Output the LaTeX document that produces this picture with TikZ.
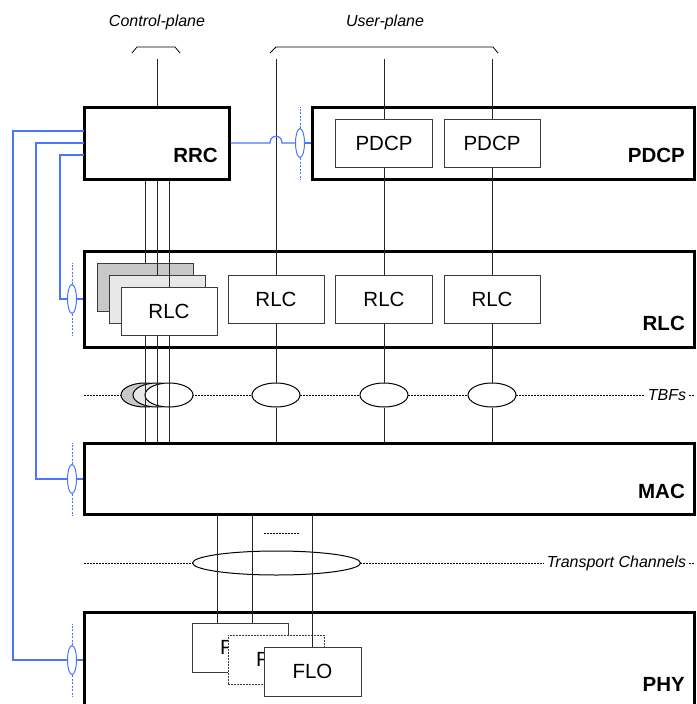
\documentclass[tikz,border=0pt]{standalone}
\usepackage{fontspec}
\setmainfont{Liberation Sans}
\usetikzlibrary{shapes.geometric}
\definecolor{bl}{RGB}{74,118,255}
\definecolor{dgray}{RGB}{200,200,200}
\definecolor{lgray}{RGB}{232,232,232}
\definecolor{edge}{RGB}{60,60,60}
\begin{document}
\begin{tikzpicture}[x=1pt,y=-1pt,
  bigbox/.style={draw=black, line width=3pt, inner sep=0pt},
  smallbox/.style={draw=edge, line width=1pt, fill=white, inner sep=0pt, minimum width=96pt, minimum height=48pt, font=\fontsize{20.5}{24}\selectfont},
  layerlbl/.style={font=\fontsize{20.5}{24}\selectfont\bfseries, anchor=base east, inner sep=0pt},
  planelbl/.style={font=\fontsize{16}{19}\selectfont\itshape, anchor=base, inner sep=3pt},
  oval/.style={ellipse, draw=black, line width=1pt, fill=white, minimum width=48pt, minimum height=24pt, inner sep=0pt},
  wire/.style={draw=black!85, line width=1pt},
  bluewire/.style={draw=bl, line width=1.2pt},
  bluering/.style={ellipse, draw=bl, line width=1pt, fill=white, minimum width=9pt, minimum height=29pt, inner sep=0pt},
  bluedash/.style={draw=bl, line width=0.8pt, dash pattern=on 2pt off 1.5pt},
  dotline/.style={draw=black, line width=0.8pt, dash pattern=on 2pt off 1pt}]
\useasboundingbox (0,0) rectangle (696,704);

% plane labels and brackets
\node[planelbl] (cplane) at (157,27) {Control-plane};
\node[planelbl] (uplane) at (385,27) {User-plane};
\draw[line width=0.8pt] (132,53) -- (137,47) -- (175,47) -- (180,53);
\draw[line width=0.8pt] (270,53) -- (276,47) -- (493,47) -- (498,53);

% dashed channel lines with labels
\node[planelbl] (tbfs) at (667,400) {TBFs};
\node[planelbl] (trch) at (616.5,567) {Transport Channels};
\coordinate (tbfL) at (84,395);
\coordinate (tbfR) at (695,395);
\coordinate (trL) at (84,563);
\coordinate (trR) at (695,563);
\draw[dotline] (tbfL) -- (tbfL -| tbfs.west);
\draw[dotline] (tbfR -| tbfs.east) -- (tbfR);
\draw[dotline] (trL) -- (trL -| trch.west);
\draw[dotline] (trR -| trch.east) -- (trR);

% layer boxes
\node[bigbox, minimum width=145pt, minimum height=72pt] (rrc) at (156.5,143) {};
\node[bigbox, minimum width=382pt, minimum height=72pt] (pdcpL) at (503,143) {};
\node[bigbox, minimum width=610pt, minimum height=96pt] (rlcL) at (389,299) {};
\node[bigbox, minimum width=610pt, minimum height=71pt] (mac) at (389,478.5) {};
\node[bigbox, minimum width=610pt, minimum height=128pt] (phy) at (389,676) {};
\node[layerlbl] (rrcT) at (218,162) {RRC};
\node[layerlbl] (pdcpT) at (685,162) {PDCP};
\node[layerlbl] (rlcT) at (685,330) {RLC};
\node[layerlbl] (macT) at (685,498) {MAC};
\node[layerlbl] (phyT) at (685,691) {PHY};

% inner entities
\node[smallbox, minimum width=97pt] (pdcp1) at (384,143) {PDCP};
\node[smallbox] (pdcp2) at (492,143) {PDCP};
\node[smallbox, fill=dgray] (rlca) at (145,287) {};
\node[smallbox, fill=lgray] (rlcb) at (157,299) {};
\node[smallbox] (rlcc) at (169,311) {RLC};
\node[smallbox] (rlc2) at (276,299) {RLC};
\node[smallbox, minimum width=97pt] (rlc3) at (384,299) {RLC};
\node[smallbox] (rlc4) at (492,299) {RLC};
\node[smallbox, minimum height=49pt] (flo1) at (240,647.5) {FLO};
\node[smallbox, minimum height=49pt, dash pattern=on 2pt off 1pt] (flo2) at (276,659.5) {FLO};
\node[smallbox, minimum width=97pt, minimum height=49pt] (flo3) at (312.5,671.5) {FLO};

% TBF ovals
\node[oval, fill=dgray] (ea) at (145,395) {};
\node[oval, fill=lgray] (eb) at (157,395) {};
\node[oval] (ec) at (169,395) {};
\node[oval] (e2) at (276,395) {};
\node[oval] (e3) at (384,395) {};
\node[oval] (e4) at (492,395) {};
% transport channel oval
\node[oval, minimum width=168pt] (etr) at (276.5,563) {};

% control-plane wires
\coordinate (c0) at (157,59);
\draw[wire] (c0) -- (rrc.north -| c0);
\draw[wire] (rrc.south -| rlca.north) -- (rlca.north);
\draw[wire] (rrc.south -| rlcb.north) -- (rlcb.north);
\draw[wire] (rrc.south -| rlcc.north) -- (rlcc.north);
\draw[wire] (rlcc.south -| rlca.north) -- (mac.north -| rlca.north);
\draw[wire] (rlcc.south -| rlcb.north) -- (mac.north -| rlcb.north);
\draw[wire] (rlcc.south) -- (mac.north -| rlcc.south);

% user-plane wires
\coordinate (u1) at (276,59);
\coordinate (u2) at (384,59);
\coordinate (u3) at (492,59);
\draw[wire] (u1) -- (rlc2.north);
\draw[wire] (rlc2.south) -- (e2.north);
\draw[wire] (e2.south) -- (mac.north -| e2.south);
\draw[wire] (u2) -- (pdcp1.north);
\draw[wire] (pdcp1.south) -- (rlc3.north);
\draw[wire] (rlc3.south) -- (e3.north);
\draw[wire] (e3.south) -- (mac.north -| e3.south);
\draw[wire] (u3) -- (pdcp2.north);
\draw[wire] (pdcp2.south) -- (rlc4.north);
\draw[wire] (rlc4.south) -- (e4.north);
\draw[wire] (e4.south) -- (mac.north -| e4.south);

% transport wires
\coordinate (ta) at (217,0);
\coordinate (tb) at (252,0);
\coordinate (tc) at (312,0);
\draw[wire] (mac.south -| ta) -- (flo1.north -| ta);
\draw[wire] (mac.south -| tb) -- (flo1.north -| tb);
\draw[wire] (mac.south -| tc) -- (flo3.north -| tc);
\coordinate (dA) at (264,533);
\coordinate (dB) at (299,533);
\draw[dotline] (dA) -- (dB);

% blue control connections
\node[bluering] (r0) at (300,143) {};
\node[bluering] (r1) at (72,299) {};
\node[bluering] (r2) at (72,479) {};
\node[bluering] (r3) at (72,660) {};
\foreach \r in {r0,r1,r2,r3}{
  \draw[bluedash] (\r.north) -- ++(0,-21.5);
  \draw[bluedash] (\r.south) -- ++(0,21.5);
}
\coordinate (hopA) at (270,143);
\coordinate (hopB) at (282,143);
\draw[bluewire] (rrc.east) -- (hopA) .. controls (270,134) and (282,134) .. (hopB) -- (r0.west);
\draw[bluewire] (r0.east) -- (pdcpL.west);
\coordinate (w1) at (84,131);
\coordinate (w2) at (84,143);
\coordinate (w3) at (84,155);
\draw[bluewire] (w1) -- (13,131) |- (r3.west);
\draw[bluewire] (r3.east) -- (phy.west |- r3.east);
\draw[bluewire] (w2) -- (36,143) |- (r2.west);
\draw[bluewire] (r2.east) -- (mac.west |- r2.east);
\draw[bluewire] (w3) -- (60,155) |- (r1.west);
\draw[bluewire] (r1.east) -- (rlcL.west |- r1.east);
\end{tikzpicture}
\end{document}
